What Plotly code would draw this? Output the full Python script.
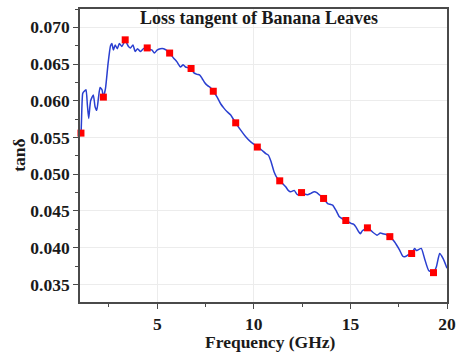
import plotly.graph_objects as go

# Loss tangent spectrum of banana leaves (frequency in GHz)
freq_ghz = [1.00, 1.05, 1.14, 1.22, 1.31, 1.38, 1.45, 1.55, 1.69, 1.78, 1.87, 1.96, 2.04, 2.14, 2.21,
            2.32, 2.45, 2.58, 2.65, 2.73, 2.82, 2.93, 3.04, 3.17, 3.34, 3.51, 3.62, 3.74, 3.86, 3.98,
            4.12, 4.29, 4.48, 4.62, 4.73, 4.85, 4.99, 5.16, 5.33, 5.47, 5.64, 5.85, 6.02, 6.20, 6.34,
            6.46, 6.60, 6.75, 6.90, 7.06, 7.20, 7.33, 7.45, 7.59, 7.75, 7.90, 8.10, 8.28, 8.45, 8.62,
            8.79, 9.06, 9.32, 9.58, 9.84, 10.00, 10.18, 10.40, 10.62, 10.75, 10.88, 11.05, 11.20, 11.34,
            11.50, 11.65, 11.78, 11.91, 12.09, 12.26, 12.47, 12.62, 12.78, 12.95, 13.13, 13.26, 13.39,
            13.61, 13.82, 13.95, 14.08, 14.25, 14.43, 14.60, 14.76, 15.03, 15.16, 15.29, 15.42, 15.52,
            15.62, 15.88, 16.00, 16.16, 16.38, 16.55, 16.68, 16.85, 17.04, 17.15, 17.28, 17.54, 17.72,
            17.85, 17.98, 18.17, 18.32, 18.42, 18.50, 18.67, 18.84, 19.05, 19.30, 19.45, 19.62, 19.80,
            20.00]
tan_delta = [0.0552, 0.0556, 0.0610, 0.0613, 0.0615, 0.0595, 0.0576, 0.0600, 0.0608, 0.0592, 0.0587,
             0.0605, 0.0618, 0.0615, 0.0605, 0.0617, 0.0650, 0.0675, 0.0678, 0.0669, 0.0676, 0.0671,
             0.0678, 0.0674, 0.0682, 0.0674, 0.0672, 0.0676, 0.0667, 0.0671, 0.0667, 0.0671, 0.0672,
             0.0670, 0.0669, 0.0665, 0.0669, 0.0671, 0.0671, 0.0669, 0.0665, 0.0658, 0.0653, 0.0646,
             0.0649, 0.0646, 0.0645, 0.0644, 0.0638, 0.0636, 0.0635, 0.0630, 0.0625, 0.0621, 0.0618,
             0.0613, 0.0605, 0.0596, 0.0590, 0.0585, 0.0581, 0.0570, 0.0560, 0.0551, 0.0544, 0.0541,
             0.0537, 0.0533, 0.0528, 0.0526, 0.0518, 0.0503, 0.0495, 0.0491, 0.0487, 0.0483, 0.0478,
             0.0476, 0.0478, 0.0472, 0.0475, 0.0473, 0.0472, 0.0474, 0.0476, 0.0475, 0.0472, 0.0467,
             0.0460, 0.0459, 0.0458, 0.0451, 0.0442, 0.0439, 0.0437, 0.0433, 0.0432, 0.0428, 0.0422,
             0.0419, 0.0423, 0.0427, 0.0425, 0.0421, 0.0417, 0.0420, 0.0419, 0.0418, 0.0415, 0.0412,
             0.0408, 0.0397, 0.0388, 0.0388, 0.0390, 0.0392, 0.0399, 0.0396, 0.0397, 0.0399, 0.0385,
             0.0369, 0.0366, 0.0374, 0.0392, 0.0385, 0.0372]

# Highlighted sample points
marker_freq = [1.05, 2.21, 3.34, 4.48, 5.64, 6.75, 7.90, 9.06, 10.18, 11.34, 12.47, 13.61, 14.76,
               15.88, 17.04, 18.17, 19.30]
marker_tan = [0.0556, 0.0605, 0.0683, 0.0672, 0.0665, 0.0644, 0.0613, 0.0570, 0.0537, 0.0491,
              0.0475, 0.0467, 0.0437, 0.0427, 0.0415, 0.0392, 0.0366]

x_ticks = [5, 10, 15, 20]
y_ticks = [0.035, 0.040, 0.045, 0.050, 0.055, 0.060, 0.065, 0.070]

SERIF = "Liberation Serif"
AXIS_COLOR = "#4a4a4a"
TEXT_COLOR = "#1a1a1a"

fig = go.Figure()
fig.add_trace(go.Scatter(
    x=freq_ghz, y=tan_delta, mode="lines",
    line=dict(color="#2a3fd0", width=1.5, shape="spline", smoothing=0.5),
    hoverinfo="skip", showlegend=False,
))
fig.add_trace(go.Scatter(
    x=marker_freq, y=marker_tan, mode="markers",
    marker=dict(symbol="square", size=7, color="#ff0000", line=dict(width=0)),
    showlegend=False, cliponaxis=False,
))

axis_common = dict(
    showline=True, mirror=True, linecolor=AXIS_COLOR, linewidth=1.6,
    ticks="outside", ticklen=5, tickwidth=1.3, tickcolor=AXIS_COLOR,
    showgrid=True, gridcolor="#ececec", gridwidth=1,
    zeroline=False, automargin=False,
    tickfont=dict(family=SERIF, size=17.5, color=TEXT_COLOR, weight="bold"),
)

fig.update_xaxes(
    range=[1, 20], tickvals=x_ticks,
    minor=dict(dtick=2.5, tick0=0, ticks="outside", ticklen=3, tickwidth=1.2,
               tickcolor=AXIS_COLOR, showgrid=False),
    **axis_common,
)
fig.update_yaxes(
    range=[0.0326, 0.0725], tickvals=y_ticks, tickformat=".3f",
    minor=dict(dtick=0.0025, tick0=0, ticks="outside", ticklen=3, tickwidth=1.2,
               tickcolor=AXIS_COLOR, showgrid=False),
    **axis_common,
)

fig.update_layout(
    width=459, height=353,
    margin=dict(l=80, r=12, t=9, b=51),
    paper_bgcolor="white", plot_bgcolor="white",
    annotations=[
        dict(text="Loss tangent of Banana Leaves", xref="paper", yref="paper",
             x=0.488, y=0.969, xanchor="center", yanchor="middle", showarrow=False,
             font=dict(family=SERIF, size=18, color=TEXT_COLOR, weight="bold")),
        dict(text="Frequency (GHz)", xref="paper", yref="paper",
             x=0.518, y=-0.138, xanchor="center", yanchor="middle", showarrow=False,
             font=dict(family=SERIF, size=17.5, color=TEXT_COLOR, weight="bold")),
        dict(text="tanδ", xref="paper", yref="paper",
             x=-0.168, y=0.5, xanchor="center", yanchor="middle", showarrow=False,
             textangle=-90,
             font=dict(family=SERIF, size=17.5, color=TEXT_COLOR, weight="bold")),
    ],
)

fig.write_html("out.html")
